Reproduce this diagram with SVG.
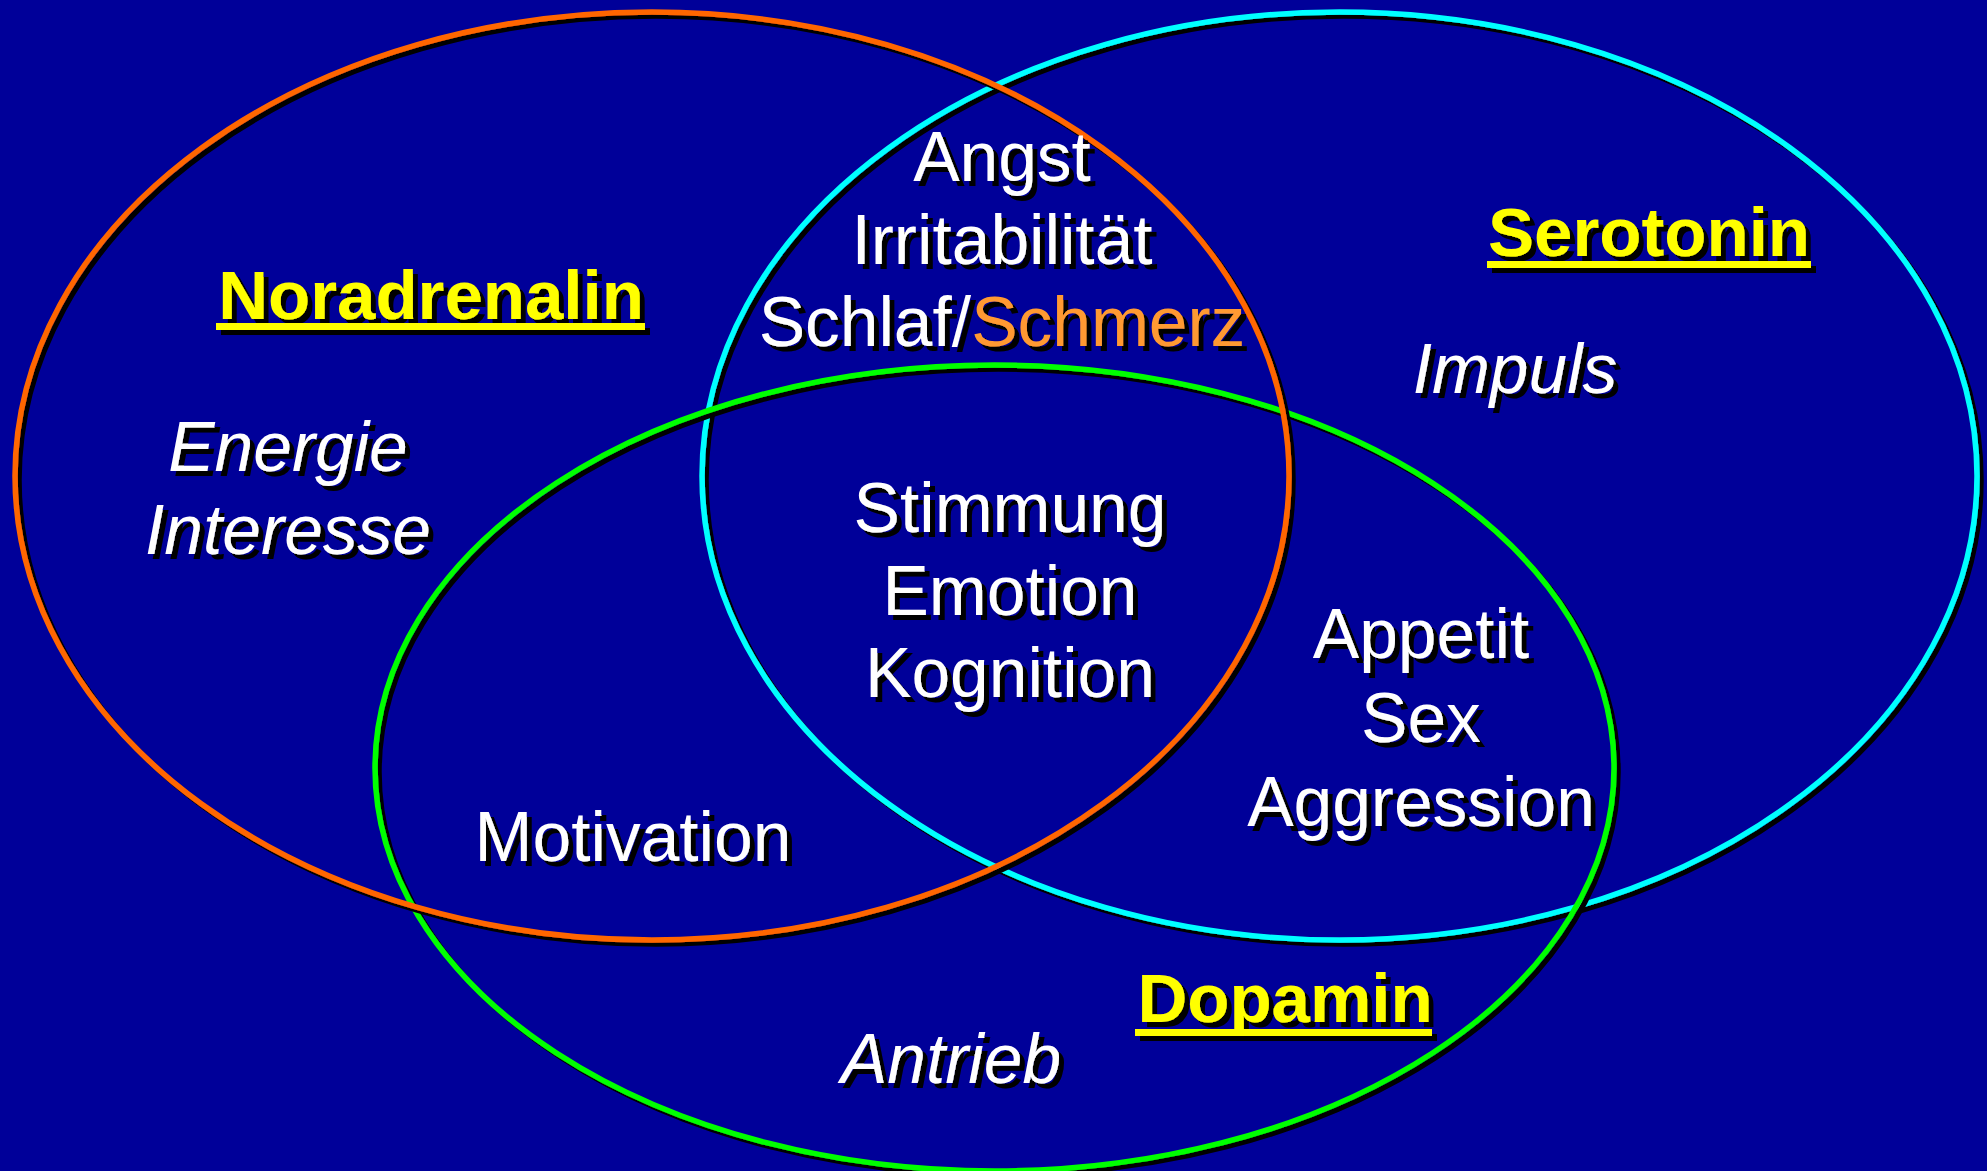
<svg xmlns="http://www.w3.org/2000/svg" width="1987" height="1171" viewBox="0 0 1987 1171">
  <defs>
    <filter id="sh" x="-10%" y="-10%" width="120%" height="120%">
      <feOffset in="SourceAlpha" dx="5" dy="5" result="o"/>
      <feMerge><feMergeNode in="o"/><feMergeNode in="SourceGraphic"/></feMerge>
    </filter>
    <filter id="shl" x="-5%" y="-5%" width="110%" height="110%">
      <feOffset in="SourceAlpha" dx="4" dy="4" result="o"/>
      <feMerge><feMergeNode in="o"/><feMergeNode in="SourceGraphic"/></feMerge>
    </filter>
  </defs>
  <style>
    .set { fill: none; stroke-width: 5.5; filter: url(#shl); }
    .t { font-family: "Liberation Sans", Arial, sans-serif; font-size: 69.5px; fill: #FFFFFF; text-anchor: middle; filter: url(#sh); }
    .i { font-style: italic; }
    .h { font-family: "Liberation Sans", Arial, sans-serif; font-size: 69px; font-weight: bold; fill: #FFFF00; text-anchor: middle; }
    .u { fill: #FFFF00; }
    .hl { filter: url(#sh); }
  </style>
  <rect width="1987" height="1171" fill="#000099"/>

  <g id="sets">
    <ellipse id="serotonin-set" class="set" cx="1339.5" cy="476" rx="637.5" ry="464" stroke="#00FFFF"/>
    <ellipse id="dopamin-set" class="set" cx="994.5" cy="768" rx="619.5" ry="403" stroke="#00FF00"/>
    <ellipse id="noradrenalin-set" class="set" cx="652" cy="476" rx="637" ry="464" stroke="#FF6600"/>
  </g>

  <g id="noradrenalin-label" class="hl">
    <text class="h" x="431" y="319">Noradrenalin</text>
    <rect class="u" x="216" y="323" width="429" height="7"/>
  </g>
  <g id="serotonin-label" class="hl">
    <text class="h" x="1649" y="256">Serotonin</text>
    <rect class="u" x="1487" y="261" width="324" height="7"/>
  </g>
  <g id="dopamin-label" class="hl">
    <text class="h" x="1285" y="1022">Dopamin</text>
    <rect class="u" x="1135" y="1029" width="297" height="7"/>
  </g>

  <g id="noradrenalin-only">
    <text class="t i" x="288" y="471">Energie</text>
    <text class="t i" x="288" y="554">Interesse</text>
  </g>
  <g id="serotonin-only">
    <text class="t i" x="1515" y="393">Impuls</text>
  </g>
  <g id="dopamin-only">
    <text class="t i" x="951" y="1083">Antrieb</text>
  </g>
  <g id="noradrenalin-serotonin">
    <text class="t" x="1002" y="181">Angst</text>
    <text class="t" x="1002" y="264">Irritabilität</text>
    <text class="t" x="1002" y="346">Schlaf/<tspan fill="#FF9933">Schmerz</tspan></text>
  </g>
  <g id="all-three">
    <text class="t" x="1010" y="532">Stimmung</text>
    <text class="t" x="1010" y="615">Emotion</text>
    <text class="t" x="1010" y="697">Kognition</text>
  </g>
  <g id="serotonin-dopamin">
    <text class="t" x="1421" y="658">Appetit</text>
    <text class="t" x="1421" y="742">Sex</text>
    <text class="t" x="1421" y="826">Aggression</text>
  </g>
  <g id="noradrenalin-dopamin">
    <text class="t" x="633" y="861">Motivation</text>
  </g>
</svg>
